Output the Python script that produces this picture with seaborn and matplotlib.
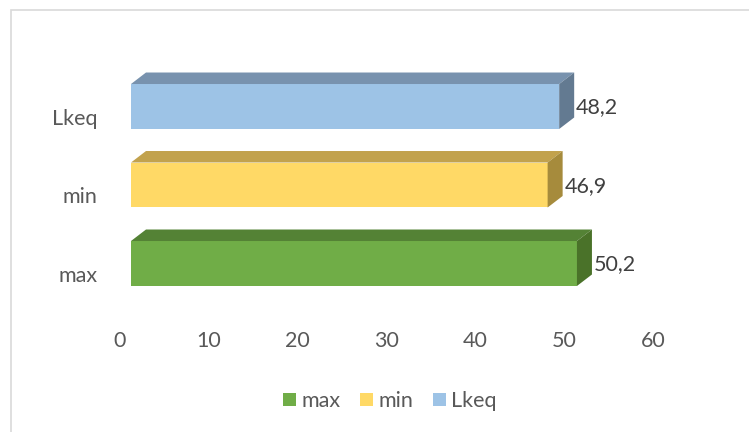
import matplotlib
matplotlib.use("Agg")
import matplotlib.pyplot as plt
from matplotlib.patches import Polygon, Rectangle, Patch
from matplotlib.transforms import ScaledTranslation
import seaborn as sns
import pandas as pd

# Noise levels (dB) shown as 3D-style horizontal bars
categories = ["Lkeq", "min", "max"]          # top to bottom
values = [48.2, 46.9, 50.2]
legend_order = ["max", "min", "Lkeq"]
x_ticks = [0, 10, 20, 30, 40, 50, 60]

front_colors = {"max": "#70AD47", "min": "#FFD966", "Lkeq": "#9DC3E6"}
top_colors = {"max": "#548235", "min": "#C2A24D", "Lkeq": "#7892AE"}
side_colors = {"max": "#4A7229", "min": "#A68B3C", "Lkeq": "#637A91"}

TEXT = "#595959"
FS = 15.5
DPI = 100
W, H = 749, 432

sns.set_theme(style="white")
plt.rcParams["font.family"] = ["Lato", "DejaVu Sans"]
plt.rcParams["font.size"] = FS

df = pd.DataFrame({"label": categories, "value": values})

fig = plt.figure(figsize=(W / DPI, H / DPI), dpi=DPI)
fig.patch.set_facecolor("white")

# axes placed in pixel units (left, top, right, bottom)
L, T, R, B = 120, 67.25, 653, 302.75
ax = fig.add_axes([L / W, 1 - B / H, (R - L) / W, (B - T) / H])

sns.barplot(data=df, x="value", y="label", hue="label",
            order=categories, hue_order=legend_order,
            palette=front_colors, width=0.573, dodge=False,
            legend=False, ax=ax, saturation=1)

ax.set_xlim(0, 60)
ax.set_ylim(2.5, -0.5)
ax.set_xticks(x_ticks)
ax.set_xlabel("")
ax.set_ylabel("")
for s in ax.spines.values():
    s.set_visible(False)
ax.tick_params(axis="both", length=0, colors=TEXT, labelsize=FS)
ax.tick_params(axis="x", pad=20)
ax.tick_params(axis="y", pad=16)

# front faces sit a little to the right of the value axis
front_shift = ScaledTranslation(11 / DPI, 0, fig.dpi_scale_trans)
front_trans = ax.transData + front_shift

px_per_x = (R - L) / 60.0
px_per_y = (B - T) / 3.0
dx = 15 / px_per_x
dy = 11.5 / px_per_y

color_by_face = {matplotlib.colors.to_hex(c): k for k, c in front_colors.items()}

bars = [p for p in ax.patches if isinstance(p, Rectangle) and p.get_width() > 0]
for p in bars:
    p.set_transform(front_trans)
    p.set_edgecolor("none")
    key = color_by_face.get(matplotlib.colors.to_hex(p.get_facecolor()))
    x0 = p.get_x()
    x1 = x0 + p.get_width()
    yt = p.get_y()
    yb = yt + p.get_height()
    top = Polygon([(x0, yt), (x1, yt), (x1 + dx, yt - dy), (x0 + dx, yt - dy)],
                  closed=True, facecolor=top_colors[key], edgecolor="none",
                  transform=front_trans)
    side = Polygon([(x1, yt), (x1, yb), (x1 + dx, yb - dy), (x1 + dx, yt - dy)],
                   closed=True, facecolor=side_colors[key], edgecolor="none",
                   transform=front_trans)
    ax.add_patch(top)
    ax.add_patch(side)

# value labels right of each bar's side face
label_trans = ax.transData + ScaledTranslation(28 / DPI, -1 / DPI, fig.dpi_scale_trans)
for i, v in enumerate(values):
    ax.text(v, i, f"{v:.1f}".replace(".", ","), transform=label_trans,
            ha="left", va="center", color="#404040", fontsize=FS)

# category labels sit slightly lower than the bar centres
down = ScaledTranslation(0, -10 / DPI, fig.dpi_scale_trans)
for lab in ax.get_yticklabels():
    lab.set_transform(lab.get_transform() + down)

handles = [Patch(facecolor=front_colors[k], edgecolor="none") for k in legend_order]
fig.legend(handles, legend_order, loc="center", bbox_to_anchor=(390 / W, 1 - 401 / H),
           ncol=3, frameon=False, handlelength=0.6, handleheight=0.6,
           handletextpad=0.25, columnspacing=0.9, labelcolor=TEXT, fontsize=FS)

# thin chart-area border
fig.add_artist(Rectangle((10.5 / W, -0.1), 1.2, (1 - 10.5 / H) + 0.1,
                         transform=fig.transFigure, fill=False,
                         edgecolor="#D9D9D9", linewidth=1.2))

fig.savefig("out.png", dpi=DPI, facecolor="white")
